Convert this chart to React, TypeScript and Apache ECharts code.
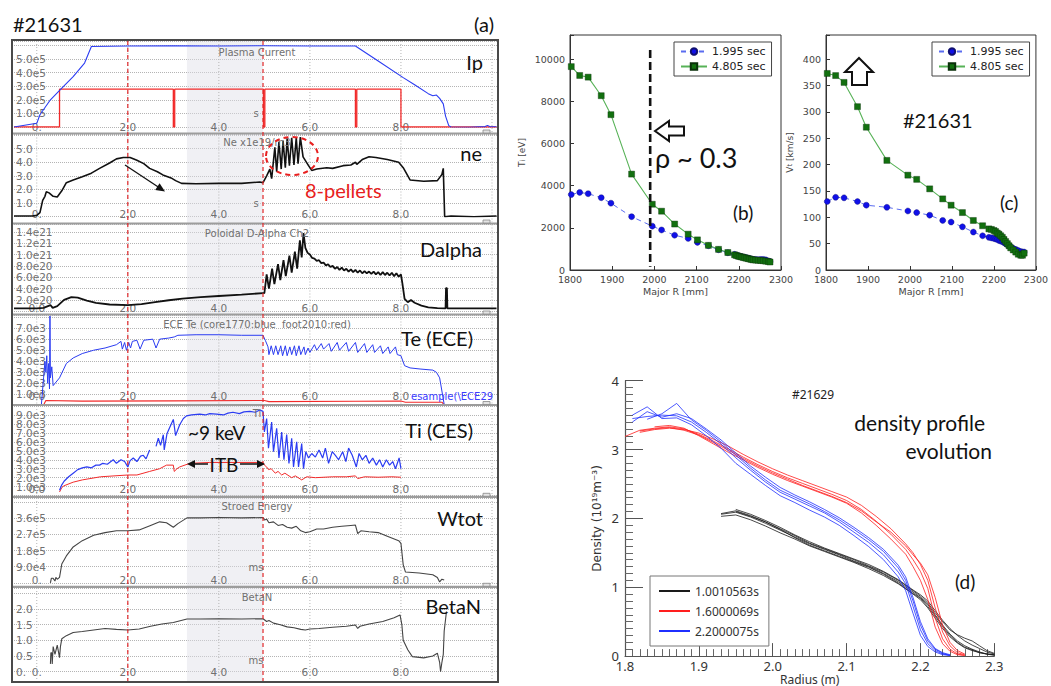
import React, { useEffect, useRef } from 'react';
import * as echarts from 'echarts';

// ================= Panel (a): time traces, [time (s), value] =================
// Plasma current (1e5 A)
const ipCurrent = [[-0.5,0],[0,0.27],[0.07,0.9],[0.3,2.0],[0.55,2.85],[0.8,3.7],[1.05,4.7],[1.2,5.92],[2.0,5.95],[3.0,5.97],[4.0,5.95],[5.0,5.97],[6.0,5.95],[7.0,5.95],[7.5,4.85],[8.05,3.63],[8.3,3.1],[8.6,2.45],[8.7,2.3],[8.78,2.35],[8.85,2.1],[8.93,1.7],[8.98,0.8],[9.05,0.1],[9.1,0.0],[9.5,-0.02],[9.85,0.03],[9.9,0.12],[9.95,0.03],[10.1,0.02]];
// Reference square trace (1e5 scale)
const ipPulse = [[-0.5,0],[0.5,0],[0.5,2.78],[3.0,2.78],[3.0,0],[3.03,0],[3.03,2.78],[4.98,2.78],[4.98,0],[5.01,0],[5.01,2.78],[7.0,2.78],[7.0,0],[7.03,0],[7.03,2.78],[8.0,2.78],[8.0,0],[10.1,0]];
// Line density (1e19 m^-3)
const neLine = [[-0.5,0.05],[-0.1,0.05],[0.0,0.1],[0.07,0.3],[0.13,1.2],[0.18,1.5],[0.21,1.84],[0.27,1.75],[0.36,1.5],[0.45,1.45],[0.55,1.9],[0.65,2.5],[0.8,2.7],[1.0,2.94],[1.2,3.2],[1.38,3.55],[1.6,3.95],[1.75,4.25],[1.9,4.35],[2.05,4.35],[2.2,4.15],[2.35,3.9],[2.48,3.55],[2.65,3.3],[2.77,3.07],[2.95,2.85],[3.05,2.65],[3.18,2.45],[3.5,2.42],[4.0,2.45],[4.5,2.45],[4.9,2.55],[4.97,2.5],[5.05,3.0],[5.12,3.5],[5.16,2.8],[5.23,5.1],[5.27,3.3],[5.32,5.5],[5.37,3.5],[5.41,5.6],[5.46,3.6],[5.5,5.7],[5.55,3.75],[5.6,5.8],[5.65,3.8],[5.7,5.8],[5.74,3.9],[5.79,5.85],[5.85,4.4],[5.97,3.75],[6.04,3.4],[6.15,3.5],[6.37,3.6],[6.5,3.55],[6.73,3.75],[6.9,3.8],[7.0,4.0],[7.03,3.85],[7.15,4.2],[7.3,4.4],[7.45,4.35],[7.7,4.2],[7.95,4.0],[8.05,3.6],[8.2,2.7],[8.5,2.6],[8.8,2.65],[8.9,3.1],[8.93,3.55],[8.96,0.0],[9.1,0.05],[9.6,0.0],[10.1,0.05]];
// Poloidal D-alpha (1e20)
const dAlpha = [[-0.5,0.5],[0.0,0.5],[0.15,0.6],[0.3,1.1],[0.35,0.6],[0.45,0.9],[0.6,2.0],[0.76,2.5],[0.9,2.4],[1.1,1.9],[1.3,1.5],[1.6,1.2],[2.0,1.1],[2.3,1.25],[2.6,1.6],[2.9,1.95],[3.2,2.25],[3.6,2.5],[4.0,2.7],[4.5,2.95],[4.97,3.2],[5.0,3.2],[5.05,6.5],[5.1,4.0],[5.17,7.5],[5.22,4.8],[5.3,8.3],[5.35,5.5],[5.42,9.0],[5.47,6.2],[5.55,9.8],[5.6,6.8],[5.67,10.5],[5.72,7.5],[5.78,12.5],[5.82,9.5],[5.86,13.8],[5.9,11.2],[5.95,10.3],[6.0,10.0],[6.05,9.4],[6.1,9.3],[6.15,8.9],[6.2,9.0],[6.25,8.5],[6.3,8.6],[6.35,8.1],[6.4,8.3],[6.45,7.8],[6.5,8.0],[6.55,7.5],[6.6,7.8],[6.65,7.3],[6.7,7.7],[6.75,7.2],[6.8,7.5],[6.85,7.0],[6.9,7.4],[6.95,6.9],[7.0,7.3],[7.05,6.8],[7.1,7.2],[7.15,6.7],[7.2,7.1],[7.25,6.7],[7.3,7.0],[7.35,6.6],[7.4,7.0],[7.45,6.5],[7.5,6.9],[7.55,6.4],[7.6,6.9],[7.65,6.4],[7.7,6.8],[7.75,6.3],[7.8,6.8],[7.85,6.2],[7.9,6.7],[7.95,6.1],[8.0,6.5],[8.03,5.0],[8.08,2.2],[8.15,1.6],[8.22,2.0],[8.3,1.5],[8.45,1.0],[8.6,0.7],[8.8,0.55],[8.98,0.5],[8.99,4.1],[9.01,4.1],[9.02,0.5],[10.1,0.5]];
// ECE Te core (blue) and foot (red), 1e3 eV
const teCore = [[-0.5,0],[0.1,0],[0.15,2.5],[0.18,4.0],[0.2,3.0],[0.22,4.5],[0.24,2.0],[0.26,3.8],[0.28,1.5],[0.29,8.1],[0.3,2.5],[0.33,3.5],[0.36,1.8],[0.4,2.0],[0.5,2.5],[0.65,3.8],[0.8,4.3],[1.0,4.7],[1.25,5.0],[1.5,5.2],[1.75,5.5],[1.85,5.8],[1.88,5.1],[1.93,5.7],[1.97,5.0],[2.02,5.7],[2.06,5.2],[2.1,5.8],[2.2,5.9],[2.27,5.1],[2.35,5.9],[2.55,6.0],[2.62,5.2],[2.7,6.0],[2.9,6.1],[3.02,6.2],[3.1,6.35],[3.5,6.4],[4.0,6.4],[4.5,6.35],[4.97,6.35],[5.02,5.9],[5.08,5.3],[5.1,4.6],[5.15,5.4],[5.2,4.6],[5.25,5.4],[5.3,4.6],[5.36,5.4],[5.4,4.5],[5.46,5.4],[5.5,4.5],[5.56,5.3],[5.6,4.6],[5.66,5.4],[5.7,4.5],[5.76,5.4],[5.8,4.6],[5.87,5.3],[5.9,4.6],[5.96,5.2],[6.0,4.8],[6.1,5.5],[6.15,5.0],[6.25,5.6],[6.3,5.1],[6.42,5.6],[6.47,4.9],[6.6,5.7],[6.65,5.0],[6.8,5.7],[6.85,4.9],[7.0,5.7],[7.05,4.8],[7.2,5.6],[7.25,4.8],[7.38,5.5],[7.42,4.8],[7.55,5.4],[7.6,4.7],[7.72,5.3],[7.76,4.7],[7.88,5.3],[7.92,4.6],[8.0,4.5],[8.08,3.6],[8.2,3.4],[8.42,3.3],[8.7,3.2],[8.78,3.0],[8.85,2.5],[8.95,0.1],[9.0,0],[10.1,0]];
const teFoot = [[-0.5,0.05],[0.15,0.05],[0.2,0.45],[1.0,0.4],[3.0,0.42],[5.0,0.45],[5.1,0.35],[7.0,0.38],[8.0,0.4],[8.1,0.3],[8.9,0.3],[8.95,0.05],[10.1,0.05]];
// CES Ti core (blue) and outer (red), 1e3 eV
const tiCore = [[0.5,0.6],[0.55,1.2],[0.6,1.6],[0.7,2.1],[0.8,2.5],[0.9,2.9],[1.0,3.1],[1.1,3.2],[1.2,3.1],[1.3,3.4],[1.38,3.4],[1.45,3.6],[1.55,3.5],[1.68,4.0],[1.75,3.6],[1.85,4.0],[1.93,3.8],[2.0,3.2],[2.05,3.9],[2.12,4.2],[2.2,3.8],[2.28,4.4],[2.34,4.5],[2.4,4.1],[2.48,5.1],[2.56,'-'],[2.62,5.5],[2.67,6.4],[2.72,5.6],[2.78,6.8],[2.8,5.1],[2.86,6.9],[2.92,7.6],[3.0,8.5],[3.05,6.7],[3.14,7.9],[3.22,8.6],[3.29,8.9],[3.4,9.0],[3.58,9.1],[3.7,9.0],[3.8,9.15],[3.95,9.1],[4.1,9.0],[4.2,9.2],[4.31,9.3],[4.45,9.15],[4.55,9.35],[4.68,9.4],[4.8,9.3],[4.9,9.55],[4.97,9.4],[5.0,7.1],[5.05,8.6],[5.09,5.3],[5.16,8.2],[5.2,4.9],[5.27,7.5],[5.32,4.2],[5.38,7.1],[5.43,4.0],[5.49,6.8],[5.54,3.6],[5.6,6.4],[5.64,3.2],[5.71,6.0],[5.75,3.2],[5.82,5.8],[5.86,3.0],[5.91,4.9],[5.97,4.2],[6.04,4.7],[6.12,4.3],[6.2,5.1],[6.28,4.2],[6.34,5.3],[6.41,3.6],[6.49,4.9],[6.56,4.5],[6.63,4.0],[6.72,4.9],[6.79,3.8],[6.85,5.3],[6.93,4.5],[7.02,3.2],[7.08,4.7],[7.15,4.0],[7.23,4.5],[7.3,3.6],[7.38,4.2],[7.46,3.4],[7.53,4.0],[7.6,3.2],[7.68,4.0],[7.75,3.4],[7.82,3.8],[7.88,3.0],[7.96,4.2],[8.0,3.0]];
const tiOuter = [[0.5,0.4],[0.55,0.9],[0.6,1.1],[0.8,1.5],[1.0,1.75],[1.4,2.1],[2.0,2.3],[2.2,2.3],[2.48,2.7],[2.7,3.0],[2.85,3.4],[3.0,3.4],[3.02,2.7],[3.08,3.0],[3.14,3.2],[3.36,3.6],[3.8,3.7],[4.4,3.7],[4.97,3.7],[5.0,3.4],[5.05,3.2],[5.09,2.9],[5.15,3.0],[5.24,2.5],[5.3,2.7],[5.38,2.3],[5.45,2.5],[5.6,2.0],[5.68,2.2],[5.82,1.75],[5.93,2.1],[6.12,2.0],[6.5,2.1],[6.8,2.1],[7.0,2.2],[7.05,1.9],[7.2,2.1],[7.5,2.05],[7.8,2.1],[8.0,2.05]];
// Stored energy (1e5 J)
const wTot = [[0.3,0.0],[0.32,0.25],[0.36,0.25],[0.4,0.1],[0.42,0.3],[0.45,0.2],[0.5,0.3],[0.55,1.05],[0.65,1.5],[0.8,2.0],[1.0,2.35],[1.25,2.65],[1.5,2.8],[1.75,2.9],[2.0,2.9],[2.25,2.95],[2.5,3.2],[2.7,3.4],[2.85,3.35],[3.0,3.1],[3.1,3.3],[3.3,3.62],[3.6,3.62],[4.0,3.64],[4.5,3.62],[4.97,3.64],[5.0,3.5],[5.05,3.55],[5.1,3.35],[5.2,3.4],[5.3,3.2],[5.4,3.25],[5.5,3.1],[5.6,3.05],[5.7,3.15],[5.8,2.9],[5.9,2.8],[6.0,2.85],[6.15,3.0],[6.3,3.0],[6.5,3.1],[6.7,3.15],[6.9,3.2],[7.0,3.22],[7.05,2.75],[7.12,2.9],[7.3,2.85],[7.5,2.8],[7.7,2.6],[7.95,2.35],[8.0,2.2],[8.05,1.0],[8.1,0.6],[8.4,0.55],[8.7,0.45],[8.8,0.3],[8.85,0.05],[8.9,0.2],[8.95,0.15]];
// Normalized beta
const betaN = [[0.3,0.25],[0.31,0.6],[0.33,0.6],[0.34,0.25],[0.36,0.8],[0.4,0.55],[0.45,0.85],[0.5,0.45],[0.52,0.8],[0.55,1.05],[0.65,1.15],[0.8,1.25],[1.0,1.28],[1.25,1.33],[1.5,1.38],[1.75,1.35],[2.0,1.33],[2.25,1.36],[2.5,1.45],[2.75,1.52],[3.0,1.57],[3.3,1.68],[3.6,1.68],[4.0,1.69],[4.5,1.68],[4.97,1.69],[5.05,1.6],[5.1,1.63],[5.2,1.55],[5.35,1.5],[5.5,1.43],[5.65,1.4],[5.8,1.35],[5.9,1.33],[6.0,1.36],[6.2,1.38],[6.5,1.42],[6.8,1.45],[7.0,1.49],[7.05,1.38],[7.1,1.45],[7.3,1.52],[7.6,1.6],[7.85,1.72],[7.98,1.81],[8.02,1.5],[8.05,1.0],[8.15,0.7],[8.25,0.48],[8.5,0.44],[8.7,0.5],[8.8,0.59],[8.85,0.3],[8.87,0.0],[8.9,0.3],[8.93,0.55],[8.95,1.3],[9.0,1.92]];

// tick labels (a)
const xTickVals = [0, 2, 4, 6, 8];
const xTickLabels1 = ['0.', '2.0', '4.0', '6.0', '8.0'];
const xTickLabels2 = ['0.0', '2.0', '4.0', '6.0', '8.0'];
const ipTicks = [1, 2, 3, 4, 5];
const ipTickLabels = ['1.0e5', '2.0e5', '3.0e5', '4.0e5', '5.0e5'];
const neTicks = [1, 2, 3, 4, 5];
const neTickLabels = ['1.0', '2.0', '3.0', '4.0', '5.0'];
const daTicks = [2, 4, 6, 8, 10, 12, 14];
const daTickLabels = ['2.0e20', '4.0e20', '6.0e20', '8.0e20', '1.0e21', '1.2e21', '1.4e21'];
const teTicks = [1, 2, 3, 4, 5, 6, 7];
const teTickLabels = ['1.0e3', '2.0e3', '3.0e3', '4.0e3', '5.0e3', '6.0e3', '7.0e3'];
const tiTicks = [1, 2, 3, 4, 5, 6, 7, 8, 9];
const tiTickLabels = ['1.0e3', '2.0e3', '3.0e3', '4.0e3', '5.0e3', '6.0e3', '7.0e3', '8.0e3', '9.0e3'];
const wTicks = [0.9, 1.8, 2.7, 3.6];
const wTickLabels = ['9.0e4', '1.8e5', '2.7e5', '3.6e5'];
const bnTicks = [0, 0.5, 1, 1.5, 2];
const bnTickLabels = ['0.', '0.5', '1.0', '1.5', '2.0'];
const xGridTimes = [0, 2, 4, 6, 8, 10];
const markerTimes = [2.0, 4.97];
const itbWindow = [3.3, 4.97];

// ================= Panel (b): Ti profile =================
const bR = [1803,1823,1843,1874,1897,1946,1995,2017,2048,2080,2102,2128,2152,2174,2190,2194,2198,2202,2206,2210,2214,2218,2222,2226,2230,2234,2240,2246,2252,2258,2264,2270,2274];
const bTi1995 = [3580,3680,3620,3430,3170,2530,2080,1900,1650,1500,1310,1150,960,820,740,700,680,660,640,620,600,580,560,540,520,500,500,490,500,500,480,430,400];
const bTi4805 = [9650,9230,9150,8270,7370,4550,3120,2790,2180,1700,1430,1170,980,830,720,690,660,640,620,600,580,560,540,520,500,480,470,460,450,440,420,400,380];
const rhoR = [1990, 1990];
const rhoTi = [10440, 160];

// ================= Panel (c): Vt profile =================
const cR = [1803,1823,1843,1875,1896,1945,1995,2016,2047,2078,2098,2125,2151,2173,2188,2194,2200,2204,2208,2212,2216,2220,2224,2228,2232,2236,2240,2246,2252,2258,2264,2268,2272];
const cV1995 = [130,138,137,130,123,119,112,109,104,94,91,82,72,65,62,61,60,59,58,56,55,54,52,50,48,46,44,41,39,37,35,34,34];
const cV4805 = [373,369,356,310,271,208,180,172,154,135,123,109,94,84,78,77,75,73,70,68,65,62,58,54,50,46,42,38,34,30,28,28,32];

// ================= Panel (d): density profiles =================
const dR_k = [1.93,1.95,1.97,1.99,2.01,2.03,2.05,2.07,2.09,2.11,2.13,2.15,2.17,2.19,2.2,2.21,2.22,2.23,2.24,2.25,2.26,2.27,2.28,2.29,2.3];
const dK1 = [2.06,2.09,2.02,1.93,1.83,1.73,1.63,1.55,1.47,1.38,1.30,1.20,1.08,0.93,0.85,0.75,0.60,0.45,0.32,0.22,0.15,0.10,0.06,0.03,0.01];
const dK2 = [2.03,2.05,1.98,1.89,1.79,1.70,1.60,1.52,1.44,1.36,1.27,1.17,1.05,0.90,0.82,0.70,0.55,0.40,0.28,0.19,0.12,0.08,0.05,0.03,0.02];
const dK3 = ['-',2.13,2.06,1.97,1.87,1.76,1.66,1.57,1.49,1.41,1.33,1.23,1.11,0.96,0.89,0.80,0.66,0.52,0.40,0.30,0.22,0.16,0.11,0.06,0.03];
const dK4 = ['-',2.10,2.03,1.95,1.85,1.75,1.64,1.56,1.48,1.40,1.31,1.22,1.10,0.95,0.87,0.77,0.63,0.50,0.38,0.31,0.26,0.22,0.15,0.08,0.04];
const dK5 = [2.07,2.11,2.04,1.95,1.84,1.72,1.61,1.53,1.45,1.37,1.29,1.19,1.06,0.91,0.84,0.72,0.58,0.43,0.30,0.20,0.13,0.09,0.05,0.03,0.02];
const dR_r = [1.80,1.82,1.84,1.86,1.88,1.90,1.92,1.94,1.96,1.98,2.00,2.02,2.04,2.06,2.08,2.10,2.12,2.14,2.16,2.18,2.19,2.20,2.21,2.22,2.23,2.24,2.25,2.26];
const dRd1 = [3.19,3.28,3.31,3.33,3.30,3.22,3.12,3.01,2.89,2.78,2.68,2.59,2.51,2.43,2.35,2.26,2.13,1.96,1.77,1.55,1.40,1.23,0.98,0.55,0.25,0.10,0.03,0.01];
const dRd2 = ['-',3.25,3.29,3.31,3.29,3.24,3.15,3.05,2.93,2.82,2.72,2.63,2.55,2.47,2.39,2.31,2.19,2.03,1.85,1.63,1.50,1.33,1.10,0.70,0.35,0.15,0.05,0.02];
const dRd3 = ['-','-',3.33,3.35,3.31,3.20,3.08,2.96,2.85,2.74,2.64,2.55,2.47,2.39,2.31,2.22,2.08,1.90,1.70,1.48,1.30,1.10,0.82,0.42,0.18,0.07,0.02,0.01];
const dRd4 = ['-',3.27,3.30,3.32,3.28,3.21,3.10,2.99,2.87,2.76,2.66,2.57,2.48,2.40,2.32,2.23,2.11,1.95,1.80,1.60,1.47,1.35,1.18,0.85,0.45,0.20,0.08,0.03];
const dR_b = [1.81,1.83,1.85,1.87,1.89,1.91,1.93,1.95,1.97,1.99,2.01,2.03,2.05,2.07,2.09,2.11,2.13,2.15,2.17,2.18,2.19,2.20,2.21,2.22,2.23,2.24];
const dB1 = [3.45,3.48,3.50,3.49,3.40,3.25,3.08,2.88,2.70,2.53,2.38,2.28,2.18,2.08,1.95,1.80,1.65,1.47,1.22,1.05,0.72,0.38,0.18,0.08,0.03,0.01];
const dB2 = [3.40,3.55,3.47,3.52,3.45,3.30,3.14,2.95,2.76,2.60,2.45,2.34,2.24,2.13,2.01,1.87,1.72,1.55,1.32,1.15,0.85,0.50,0.25,0.11,0.05,0.02];
const dB3 = [3.50,3.62,3.45,3.46,3.36,3.20,3.02,2.80,2.64,2.48,2.33,2.23,2.12,2.02,1.90,1.75,1.59,1.40,1.15,0.95,0.62,0.30,0.14,0.06,0.02,0.01];
const dB4 = ['-',3.44,3.52,3.67,3.43,3.28,3.11,2.92,2.73,2.56,2.41,2.31,2.21,2.10,1.98,1.84,1.69,1.52,1.28,1.10,0.80,0.45,0.22,0.10,0.04,0.01];
const dNames = ['1.0010563s', '1.6000069s', '2.2000075s'];

// ================= layout / style =================
const A_LEFT = 14, A_WIDTH = 483;
const aPanels = [
  { top: 41, zero: 127, bottom: 133.5, max: 6.32, interval: 1, lm: -6, ticks: ipTicks, labels: ipTickLabels, xl: xTickLabels1 },
  { top: 134.5, zero: 216.7, bottom: 223.5, max: 6.04, interval: 1, lm: -8.4, ticks: neTicks, labels: neTickLabels, xl: xTickLabels1 },
  { top: 224.5, zero: 311.3, bottom: 314.5, max: 15.3, interval: 2, lm: -9, ticks: daTicks, labels: daTickLabels, xl: xTickLabels2 },
  { top: 315.5, zero: 405.5, bottom: 405, max: 8.14, interval: 1, lm: -15.5, ticks: teTicks, labels: teTickLabels, xl: xTickLabels2 },
  { top: 406, zero: 495.6, bottom: 496.8, max: 10.0, interval: 1, lm: -12.3, ticks: tiTicks, labels: tiTickLabels, xl: xTickLabels2 },
  { top: 498, zero: 582.8, bottom: 586.8, max: 4.73, interval: 0.9, lm: -8.8, ticks: wTicks, labels: wTickLabels, xl: xTickLabels1 },
  { top: 588, zero: 671.7, bottom: 681.5, max: 2.67, interval: 0.5, lm: -5, ticks: bnTicks, labels: bnTickLabels, xl: xTickLabels1 },
];

const pick = (ticks: number[], labels: string[]) => (v: number) => {
  for (let i = 0; i < ticks.length; i++) if (Math.abs(ticks[i] - v) < 1e-6) return labels[i];
  return '';
};
const zipXY = (xs: any[], ys: any[]) => xs.map((x, i) => [x, ys[i]]).filter((p) => p[1] !== '-');

const GRAY_TXT = '#707070';
const BLUE = '#2b3cf2';
const RED = '#f22a2a';

function buildOption() {
  const grid: any[] = [];
  const xAxis: any[] = [];
  const yAxis: any[] = [];
  const series: any[] = [];

  aPanels.forEach((p, i) => {
    grid.push({ left: A_LEFT, top: p.top, width: A_WIDTH, height: p.zero - p.top, show: false });
    xAxis.push({
      gridIndex: i, type: 'value', min: -0.5, max: 10.11, interval: 0.5,
      axisLine: { show: false }, axisTick: { show: false }, splitLine: { show: false },
      axisLabel: { formatter: pick(xTickVals, p.xl), color: GRAY_TXT, fontSize: 10.5, fontFamily: 'DejaVu Sans', margin: p.lm },
    });
    yAxis.push({
      gridIndex: i, type: 'value', min: 0, max: p.max, interval: p.interval,
      axisLine: { show: false }, axisTick: { show: false },
      splitLine: { show: true, lineStyle: { type: 'dotted', color: '#b4b4b4', width: 1 } },
      axisLabel: { inside: true, margin: 2, formatter: pick(p.ticks, p.labels), color: GRAY_TXT, fontSize: 10.5, fontFamily: 'DejaVu Sans' },
    });
  });

  const aLine = (idx: number, data: any[], color: string, width = 1) => ({
    type: 'line', xAxisIndex: idx, yAxisIndex: idx, data, symbol: 'none', silent: true,
    lineStyle: { color, width }, z: 3,
  });
  series.push(aLine(0, ipPulse, RED, 1.3));
  series.push(aLine(0, ipCurrent, BLUE, 1.1));
  series.push(aLine(1, neLine, '#111', 1.6));
  series.push(aLine(2, dAlpha, '#111', 1.8));
  series.push(aLine(3, teFoot, RED, 1.1));
  series.push(aLine(3, teCore, BLUE, 1));
  series.push(aLine(4, tiOuter, RED, 1));
  series.push(aLine(4, tiCore, BLUE, 1.2));
  series.push(aLine(5, wTot, '#444', 1.1));
  series.push(aLine(6, betaN, '#444', 1.1));

  // ---- (b) ----
  const axisCol = '#333';
  const mplX = (gi: number, name: string) => ({
    gridIndex: gi, type: 'value', min: 1800, max: 2300, interval: 100,
    axisLine: { show: true, lineStyle: { color: axisCol } },
    axisTick: { inside: true, length: 4, lineStyle: { color: axisCol } },
    splitLine: { show: false },
    axisLabel: { fontSize: 9.5, color: '#444', fontFamily: 'DejaVu Sans', margin: 4, formatter: (v: number) => String(v) },
    name, nameLocation: 'middle', nameGap: 16,
    nameTextStyle: { fontSize: 9.5, color: '#444', fontFamily: 'DejaVu Sans' },
  });
  grid.push({ left: 570, top: 35, width: 211, height: 235, show: true, borderColor: axisCol, borderWidth: 1 });
  xAxis.push(mplX(7, 'Major R [mm]'));
  yAxis.push({
    gridIndex: 7, type: 'value', min: 0, max: 11150, interval: 2000,
    axisLine: { show: true, lineStyle: { color: axisCol } },
    axisTick: { inside: true, length: 4, lineStyle: { color: axisCol } },
    splitLine: { show: false },
    axisLabel: { fontSize: 9.5, color: '#444', fontFamily: 'DejaVu Sans', margin: 5, formatter: (v: number) => (v % 2000 === 0 ? String(v) : '') },
    name: '{a|T}{b|i}{a| [eV]}', nameLocation: 'middle', nameGap: 44, nameRotate: 90,
    nameTextStyle: { rich: { a: { fontSize: 9, color: '#444', fontFamily: 'DejaVu Sans' }, b: { fontSize: 7, color: '#444', fontFamily: 'DejaVu Sans', verticalAlign: 'bottom' } } },
  });
  grid.push({ left: 826, top: 35, width: 213, height: 235, show: true, borderColor: axisCol, borderWidth: 1 });
  xAxis.push(mplX(8, 'Major R [mm]'));
  yAxis.push({
    gridIndex: 8, type: 'value', min: 0, max: 446, interval: 50,
    axisLine: { show: true, lineStyle: { color: axisCol } },
    axisTick: { inside: true, length: 4, lineStyle: { color: axisCol } },
    splitLine: { show: false },
    axisLabel: { fontSize: 9.5, color: '#444', fontFamily: 'DejaVu Sans', margin: 5, formatter: (v: number) => (v % 50 === 0 ? String(v) : '') },
    name: '{a|V}{b|t}{a| [km/s]}', nameLocation: 'middle', nameGap: 32, nameRotate: 90,
    nameTextStyle: { rich: { a: { fontSize: 9, color: '#444', fontFamily: 'DejaVu Sans' }, b: { fontSize: 7, color: '#444', fontFamily: 'DejaVu Sans' } } },
  });

  const prof = (gi: number, name: string, data: any[], kind: 'blue' | 'green') => ({
    type: 'line', name, xAxisIndex: gi, yAxisIndex: gi, data, silent: true,
    symbol: kind === 'blue' ? 'circle' : 'rect', symbolSize: 6,
    showSymbol: true,
    itemStyle: kind === 'blue' ? { color: '#1010e8', borderColor: '#101070', borderWidth: 0.4 } : { color: '#12700f', borderColor: '#0a300a', borderWidth: 0.4 },
    lineStyle: kind === 'blue' ? { color: '#5a6cf0', width: 1, type: [5, 4] } : { color: '#57b257', width: 1.1 },
    z: 4,
  });
  series.push(prof(7, '1.995 sec', zipXY(bR, bTi1995), 'blue'));
  series.push(prof(7, '4.805 sec', zipXY(bR, bTi4805), 'green'));
  series.push({ type: 'line', name: 'rho', xAxisIndex: 7, yAxisIndex: 7, data: zipXY(rhoR, rhoTi), symbol: 'none', silent: true, lineStyle: { color: '#111', width: 2.6, type: [8, 4] }, z: 5 });
  series.push(prof(8, '1.995 sec', zipXY(cR, cV1995), 'blue'));
  series.push(prof(8, '4.805 sec', zipXY(cR, cV4805), 'green'));

  // ---- (d) ----
  grid.push({ left: 625, top: 380.7, width: 369.3, height: 276, show: false });
  xAxis.push({
    gridIndex: 9, type: 'value', min: 1.8, max: 2.3, interval: 0.1,
    axisLine: { show: true, lineStyle: { color: '#555', width: 1.2 } },
    axisTick: { show: true, inside: true, length: 13, lineStyle: { color: '#555' } },
    minorTick: { show: true, splitNumber: 10, length: 7, lineStyle: { color: '#666' } },
    splitLine: { show: false },
    axisLabel: { fontSize: 13, color: '#333', fontFamily: 'Noto Sans', margin: 3, formatter: (v: number) => v.toFixed(1) },
    name: 'Radius (m)', nameLocation: 'middle', nameGap: 16,
    nameTextStyle: { fontSize: 12, color: '#333', fontFamily: 'Noto Sans' },
  });
  yAxis.push({
    gridIndex: 9, type: 'value', min: 0, max: 4, interval: 1,
    axisLine: { show: true, lineStyle: { color: '#555', width: 1.2 } },
    axisTick: { show: true, inside: true, length: 18, lineStyle: { color: '#555' } },
    minorTick: { show: true, splitNumber: 10, length: 8, lineStyle: { color: '#666' } },
    splitLine: { show: false },
    axisLabel: { fontSize: 13, color: '#333', fontFamily: 'Noto Sans', margin: 6 },
    name: 'Density (10¹⁹m⁻³)', nameLocation: 'middle', nameGap: 22, nameRotate: 90,
    nameTextStyle: { fontSize: 12, color: '#333', fontFamily: 'DejaVu Sans' },
  });
  const dl = (name: string, xs: number[], ys: any[], color: string) => ({
    type: 'line', name, xAxisIndex: 9, yAxisIndex: 9, data: zipXY(xs, ys), symbol: 'none', silent: true,
    lineStyle: { color, width: 1, opacity: 0.8 }, itemStyle: { color }, z: 3,
  });
  [dK1, dK2, dK3, dK4, dK5].forEach((ys) => series.push(dl(dNames[0], dR_k, ys, '#1a1a1a')));
  [dRd1, dRd2, dRd3, dRd4].forEach((ys) => series.push(dl(dNames[1], dR_r, ys, '#ff1e1e')));
  [dB1, dB2, dB3, dB4].forEach((ys) => series.push(dl(dNames[2], dR_b, ys, '#1f2fff')));

  const legBase = {
    orient: 'vertical', selectedMode: false, backgroundColor: '#fff', borderWidth: 1,
  };
  const legend = [
    { ...legBase, data: ['1.995 sec', '4.805 sec'], left: 674, top: 42, borderColor: '#444', padding: [4, 6, 4, 6], itemGap: 4, itemWidth: 26, itemHeight: 8, textStyle: { fontSize: 11, fontFamily: 'DejaVu Sans', color: '#222' } },
    { ...legBase, data: ['1.995 sec', '4.805 sec'], left: 932, top: 42, borderColor: '#444', padding: [4, 6, 4, 6], itemGap: 4, itemWidth: 26, itemHeight: 8, textStyle: { fontSize: 11, fontFamily: 'DejaVu Sans', color: '#222' } },
    { ...legBase, data: dNames, icon: 'rect', left: 650, top: 576, borderColor: '#777', padding: [8, 10, 8, 9], itemGap: 6, itemWidth: 31, itemHeight: 2, textStyle: { fontSize: 12, fontFamily: 'Noto Sans', color: '#333', lineHeight: 14 } },
  ];

  return { animation: false, backgroundColor: '#fff', grid, xAxis, yAxis, series, legend };
}

const txt = (text: string, x: number, y: number, font: string, fill = '#111', align = 'left', extra: any = {}) => ({
  type: 'text', z: 100, silent: true,
  style: { text, x, y, font, fill, textAlign: align, textVerticalAlign: 'middle', align, verticalAlign: 'middle', ...extra },
});

function staticGraphics() {
  const g: any[] = [];
  const big = '20px Lato';
  const small = '10px "DejaVu Sans"';
  // frame & separators
  g.push({ type: 'rect', z: 90, silent: true, shape: { x: 12, y: 40, width: 486, height: 642 }, style: { fill: 'none', stroke: '#4a4a4a', lineWidth: 2 } });
  [133.5, 223.5, 314.5, 405, 496.8, 586.8].forEach((y) => {
    g.push({ type: 'line', z: 90, silent: true, shape: { x1: 13, y1: y, x2: 497, y2: y }, style: { stroke: '#9c9c9c', lineWidth: 2.2 } });
    g.push({ type: 'rect', z: 91, silent: true, shape: { x: 483, y: y - 3.5, width: 7, height: 3 }, style: { fill: '#e4e4e4', stroke: '#888', lineWidth: 0.8 } });
  });
  g.push(txt('#21631', 13, 24, big));
  g.push(txt('(a)', 494, 24, big, '#111', 'right'));
  // small titles
  const titles: [string, number][] = [['Plasma Current', 52], ['Ne x1e19/m3', 142], ['Poloidal D-Alpha Ch2', 233], ['ECE Te (core1770:blue  foot2010:red)', 324], ['Ti', 413], ['Stroed Energy', 506], ['BetaN', 597]];
  titles.forEach(([t, y]) => g.push(txt(t, 257, y, small, GRAY_TXT, 'center')));
  const units: [string, number][] = [['s', 113], ['s', 203], ['ms', 567], ['ms', 660]];
  units.forEach(([t, y]) => g.push(txt(t, 256, y, small, GRAY_TXT, 'center')));
  g.push(txt('esample(\\ECE29', 411, 396, '10px "DejaVu Sans"', '#3a3aff'));
  // big labels
  const bigs: [string, number, number][] = [['Ip', 483, 62], ['ne', 482, 153], ['Dalpha', 482, 249], ['Te (ECE)', 473, 338], ['Ti (CES)', 473, 430], ['Wtot', 483, 518], ['BetaN', 481, 606]];
  bigs.forEach(([t, x, y]) => g.push(txt(t, x, y, big, '#111', 'right')));
  // ne annotations
  g.push({ type: 'ellipse', z: 100, silent: true, shape: { cx: 292, cy: 156, rx: 26, ry: 19 }, style: { fill: 'none', stroke: '#e82020', lineWidth: 2, lineDash: [5, 4] } });
  g.push(txt('8-pellets', 305, 190, big, '#e82020'));
  g.push({ type: 'line', z: 100, silent: true, shape: { x1: 125, y1: 165, x2: 159, y2: 187.5 }, style: { stroke: '#111', lineWidth: 1.3 } });
  g.push({ type: 'polygon', z: 100, silent: true, shape: { points: [[165, 191.5], [155.2, 190.0], [159.6, 183.2]] }, style: { fill: '#111' } });
  // Ti annotations
  g.push(txt('~9 keV', 188, 432, '19px Lato'));
  g.push(txt('ITB', 224, 464, '19px Lato', '#111', 'center'));
  g.push({ type: 'line', z: 100, silent: true, shape: { x1: 208, y1: 464, x2: 193, y2: 464 }, style: { stroke: '#111', lineWidth: 1.5 } });
  g.push({ type: 'polygon', z: 100, silent: true, shape: { points: [[187, 464], [195, 460], [195, 468]] }, style: { fill: '#111' } });
  g.push({ type: 'line', z: 100, silent: true, shape: { x1: 240, y1: 464, x2: 258, y2: 464 }, style: { stroke: '#111', lineWidth: 1.5 } });
  g.push({ type: 'polygon', z: 100, silent: true, shape: { points: [[265, 464], [257, 460], [257, 468]] }, style: { fill: '#111' } });
  // (b)
  g.push({ type: 'polygon', z: 100, silent: true, shape: { points: [[655, 131], [669, 121], [669, 126.5], [684, 126.5], [684, 135.5], [669, 135.5], [669, 141]] }, style: { fill: '#fff', stroke: '#111', lineWidth: 2 } });
  g.push(txt('ρ ~ 0.3', 655, 157, '27px Lato'));
  g.push(txt('(b)', 733, 212, '19px Lato'));
  // (c)
  g.push({ type: 'polygon', z: 100, silent: true, shape: { points: [[859, 58], [873, 72], [867, 72], [867, 85], [852, 85], [852, 72], [845, 72]] }, style: { fill: '#fff', stroke: '#111', lineWidth: 2 } });
  g.push(txt('#21631', 903, 120, '20px Lato'));
  g.push(txt('(c)', 1000, 202, '19px Lato'));
  // (d)
  g.push(txt('#21629', 813, 394, '12px "Noto Sans"', '#222', 'center'));
  g.push(txt('density profile', 985, 422, '21px Lato', '#111', 'right'));
  g.push(txt('evolution', 992, 450, '21px Lato', '#111', 'right'));
  g.push(txt('(d)', 955, 581, '19px Lato'));
  return g;
}

export default function App() {
  const ref = useRef<HTMLDivElement>(null);
  useEffect(() => {
    if (!ref.current) return;
    const chart = echarts.init(ref.current, null, { renderer: 'svg' });
    chart.setOption(buildOption() as any);
    const xp = (t: number) => chart.convertToPixel({ xAxisIndex: 0 } as any, t) as unknown as number;
    const g: any[] = [];
    const xa = xp(itbWindow[0]);
    const xb = xp(itbWindow[1]);
    g.push({ type: 'rect', z: 0, silent: true, shape: { x: xa, y: 41, width: xb - xa, height: 640 }, style: { fill: 'rgba(222,222,230,0.45)' } });
    aPanels.forEach((p) => {
      xGridTimes.forEach((t) => {
        const x = xp(t);
        g.push({ type: 'line', z: 1, silent: true, shape: { x1: x, y1: p.top, x2: x, y2: p.bottom - 1.5 }, style: { stroke: '#b4b4b4', lineWidth: 1, lineDash: [1, 2] } });
      });
    });
    markerTimes.forEach((t) => {
      const x = xp(t);
      g.push({ type: 'line', z: 95, silent: true, shape: { x1: x, y1: 41, x2: x, y2: 681 }, style: { stroke: '#e0282a', lineWidth: 1.2, lineDash: [4, 3] } });
    });
    chart.setOption({ graphic: { elements: [...g, ...staticGraphics()] } } as any);
    return () => chart.dispose();
  }, []);
  return <div ref={ref} style={{ position: 'fixed', left: 0, top: 0, width: 1051, height: 686, background: '#fff' }} />;
}
